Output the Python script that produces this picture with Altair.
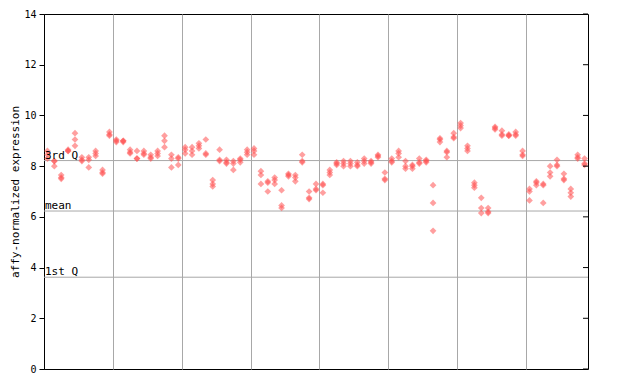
import altair as alt
import pandas as pd

# replicate values per sample (79 samples, 3 replicates each)
rep1 = [8.6, 8.2, 7.65, 8.65, 9.3, 8.35, 8.35, 8.6, 7.85, 9.35,
        9.05, 9.0, 8.65, 8.6, 8.6, 8.45, 8.6, 9.2, 8.45, 8.35,
        8.75, 8.75, 8.9, 9.05, 7.45, 8.65, 8.25, 8.2, 8.3, 8.65,
        8.7, 7.8, 7.4, 7.55, 7.05, 7.7, 7.65, 8.45, 7.0, 7.3,
        7.3, 7.85, 8.15, 8.2, 8.2, 8.15, 8.3, 8.2, 8.45, 7.75,
        8.3, 8.6, 8.2, 8.05, 8.3, 8.25, 7.25, 9.1, 8.6, 9.3,
        9.7, 8.8, 7.35, 6.75, 6.35, 9.55, 9.4, 9.25, 9.35, 8.6,
        7.1, 7.4, 7.3, 8.0, 8.25, 7.7, 7.1, 8.45, 8.3]
rep2 = [8.45, 8.2, 7.55, 8.6, 9.05, 8.25, 8.25, 8.5, 7.75, 9.25,
        9.0, 9.0, 8.55, 8.3, 8.5, 8.35, 8.5, 9.0, 8.3, 8.3,
        8.65, 8.6, 8.8, 8.5, 7.3, 8.25, 8.15, 8.1, 8.25, 8.55,
        8.6, 7.65, 7.35, 7.45, 6.45, 7.65, 7.55, 8.2, 6.75, 7.1,
        7.25, 7.75, 8.1, 8.1, 8.1, 8.05, 8.2, 8.15, 8.4, 7.5,
        8.2, 8.5, 8.0, 8.0, 8.15, 8.2, 6.55, 9.05, 8.55, 9.15,
        9.6, 8.7, 7.25, 6.35, 6.2, 9.5, 9.25, 9.2, 9.25, 8.45,
        7.0, 7.35, 7.25, 7.75, 8.05, 7.5, 6.95, 8.35, 8.1]
rep3 = [8.3, 8.0, 7.5, 8.6, 8.8, 8.2, 7.95, 8.4, 7.7, 9.2,
        8.95, 8.95, 8.5, 8.3, 8.45, 8.3, 8.4, 8.75, 7.95, 8.05,
        8.5, 8.45, 8.7, 8.45, 7.2, 8.2, 8.1, 7.85, 8.15, 8.45,
        8.45, 7.3, 7.0, 7.3, 6.35, 7.6, 7.4, 8.15, 6.7, 7.05,
        6.95, 7.65, 8.05, 8.0, 8.0, 8.0, 8.1, 8.1, 8.35, 7.45,
        8.15, 8.35, 7.9, 7.9, 8.1, 8.15, 5.45, 8.95, 8.35, 9.1,
        9.5, 8.6, 7.15, 6.15, 6.15, 9.45, 9.2, 9.2, 9.2, 8.4,
        6.65, 7.25, 6.55, 7.6, 8.0, 7.45, 6.8, 8.3, 8.05]

stat_names = ["3rd Q", "mean", "1st Q"]
stat_values = [8.22, 6.23, 3.62]
y_ticks = [0, 2, 4, 6, 8, 10, 12, 14]
x_grid = [10, 20, 30, 40, 50, 60, 70]
n_samples = len(rep1)

rows = []
for i in range(n_samples):
    for v in (rep1[i], rep2[i], rep3[i]):
        rows.append({"pos": i + 0.5, "value": v})
pts = pd.DataFrame(rows)
stats = pd.DataFrame({"name": stat_names, "value": stat_values})
ticks = pd.DataFrame({"value": y_ticks})

FONT = "DejaVu Sans Mono"
xscale = alt.Scale(domain=[0, n_samples], nice=False, zero=False)
yscale = alt.Scale(domain=[0, 14], nice=False)

points = alt.Chart(pts).mark_point(
    shape="diamond", filled=True, size=45, color="#ff5050", opacity=0.55
).encode(
    x=alt.X("pos:Q", scale=xscale,
            axis=alt.Axis(values=x_grid, grid=True, gridColor="#a8a8a8",
                          labels=False, ticks=False, domain=False, title="")),
    y=alt.Y("value:Q", scale=yscale,
            axis=alt.Axis(values=y_ticks, tickSize=5, tickColor="black",
                          domainColor="black", labelFont=FONT, labelFontSize=10,
                          labelColor="black", labelPadding=3,
                          title="affy-normalized expression", titleFont=FONT,
                          titleFontSize=11, titleFontWeight="normal",
                          titleColor="black", titlePadding=3, grid=False)),
)

stat_lines = alt.Chart(stats).mark_rule(color="#a8a8a8", strokeWidth=1).encode(
    y=alt.Y("value:Q", scale=yscale)
)

stat_text = alt.Chart(stats).mark_text(
    align="left", baseline="alphabetic", font=FONT, fontSize=11, color="black",
    dx=1, dy=-2
).encode(
    x=alt.value(0),
    y=alt.Y("value:Q", scale=yscale),
    text="name:N",
)

right_ticks = alt.Chart(ticks).mark_rule(color="black", strokeWidth=1).encode(
    x=alt.value(539), x2=alt.value(544),
    y=alt.Y("value:Q", scale=yscale),
)

chart = alt.layer(stat_lines, points, stat_text, right_ticks).properties(
    width=544, height=355,
    autosize=alt.AutoSizeParams(type="none"),
    padding={"left": 36, "top": 6, "right": 44, "bottom": 7},
).configure_view(stroke="black", strokeWidth=1)

chart.save("out.html", embed_options={"renderer": "svg", "actions": False})
